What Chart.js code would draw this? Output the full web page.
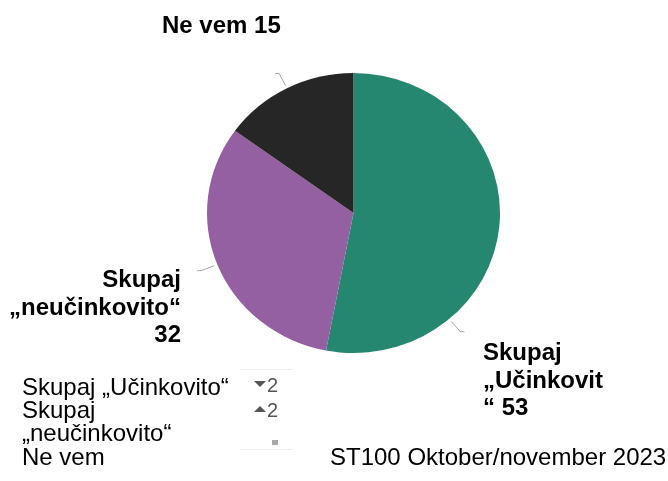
<!DOCTYPE html>
<html>
<head>
<meta charset="utf-8">
<script src="https://cdn.jsdelivr.net/npm/chart.js@4.4.0/dist/chart.umd.min.js"></script>
<style>
html, body { margin: 0; padding: 0; background: #fff; }
#wrap { width: 668px; height: 481px; }
</style>
</head>
<body>
<div id="wrap"><canvas id="pie_canvas" width="668" height="481"></canvas></div>
<script>
// data
const categories = ['Skupaj „Učinkovito“', 'Skupaj „neučinkovito“', 'Ne vem'];
const values = [53, 32, 15];
const trend = ['▼2', '▲2', '='];
const label_lines = [
    ['Skupaj', '„Učinkovit', '“ 53'],
    ['Skupaj', '„neučinkovito“', '32'],
    ['Ne vem 15'],
];
const footer_text = 'ST100 Oktober/november 2023';

const slice_colors = ['#268771', '#9460a2', '#262626'];
const FONT = 'Arial, "Liberation Sans", sans-serif';
const SX = 146.5 / 143, SY = 140 / 143; // pie is a bit wider than tall in the original

// where the callouts go: fraction along slice for leader, text anchor
const callouts = [
    { frac: 0.73, x: 483, y: 360, align: 'left' },
    { frac: 0.5, x: 181, y: 287, align: 'right' },
    { frac: 0.5, x: 162, y: 33, align: 'left' },
];

function wrap_text(ctx, text, max_w) {
    let words = text.split(' ');
    let lines = [];
    let cur = '';
    for (let w of words) {
        let t = cur ? cur + ' ' + w : w;
        if (cur && ctx.measureText(t).width > max_w) {
            lines.push(cur);
            cur = w;
        } else {
            cur = t;
        }
    }
    if (cur) lines.push(cur);
    return lines;
}

const squash = {
    id: 'squash',
    beforeDatasetsDraw(chart) {
        const arc = chart.getDatasetMeta(0).data[0];
        const ctx = chart.ctx;
        ctx.save();
        ctx.translate(arc.x, arc.y);
        ctx.scale(SX, SY);
        ctx.translate(-arc.x, -arc.y);
    },
    afterDatasetsDraw(chart) {
        chart.ctx.restore();
    },
};

const extras = {
    id: 'extras',
    afterDraw(chart) {
        const ctx = chart.ctx;
        const arcs = chart.getDatasetMeta(0).data;

        // leader lines + data labels
        ctx.save();
        arcs.forEach((arc, i) => {
            const c = callouts[i];
            const a = arc.startAngle + c.frac * (arc.endAngle - arc.startAngle);
            const r = arc.outerRadius;
            const px = (rr) => arc.x + Math.cos(a) * rr * SX;
            const py = (rr) => arc.y + Math.sin(a) * rr * SY;
            const dir = Math.cos(a) < 0 ? -1 : 1;
            ctx.strokeStyle = '#a6a6a6';
            ctx.lineWidth = 1;
            ctx.beginPath();
            ctx.moveTo(px(r + 3), py(r + 3));
            ctx.lineTo(px(r + 17), py(r + 17));
            ctx.lineTo(px(r + 17) + dir * 4, py(r + 17));
            ctx.stroke();

            ctx.fillStyle = '#000';
            ctx.font = 'bold 24px ' + FONT;
            ctx.textAlign = c.align;
            ctx.textBaseline = 'alphabetic';
            label_lines[i].forEach((ln, j) => ctx.fillText(ln, c.x, c.y + j * 27.5));
        });

        // legend (text only)
        ctx.font = '24px ' + FONT;
        ctx.fillStyle = '#000';
        ctx.textAlign = 'left';
        let y = 395;
        for (let cat of categories) {
            for (let ln of wrap_text(ctx, cat, 215)) {
                ctx.fillText(ln, 22, y);
                y += 23.2;
            }
        }

        // change markers
        ctx.strokeStyle = '#ececec';
        ctx.beginPath();
        ctx.moveTo(240, 369.5); ctx.lineTo(292, 369.5);
        ctx.moveTo(240, 449.5); ctx.lineTo(292, 449.5);
        ctx.stroke();
        ctx.fillStyle = '#555';
        ctx.font = '20px ' + FONT;
        const rows = [385, 410, 442];
        trend.forEach((t, i) => {
            const ry = rows[i];
            if (t[0] === '▼' || t[0] === '▲') {
                const up = t[0] === '▲';
                ctx.beginPath();
                if (up) {
                    ctx.moveTo(254, ry + 2); ctx.lineTo(266, ry + 2); ctx.lineTo(260, ry - 4);
                } else {
                    ctx.moveTo(254, ry - 4); ctx.lineTo(266, ry - 4); ctx.lineTo(260, ry + 2);
                }
                ctx.closePath();
                ctx.fill();
                ctx.fillText(t.slice(1), 267, ry + 7);
            } else {
                ctx.fillStyle = '#a8a8a8';
                ctx.fillRect(272, ry - 2, 6, 5);
                ctx.fillStyle = '#555';
            }
        });

        // footer
        ctx.fillStyle = '#000';
        ctx.font = '24px ' + FONT;
        ctx.fillText(footer_text, 330, 465);
        ctx.restore();
    },
};

new Chart(document.getElementById('pie_canvas').getContext('2d'), {
    type: 'pie',
    data: {
        labels: categories,
        datasets: [{
            data: values,
            backgroundColor: slice_colors,
            borderWidth: 0,
        }],
    },
    options: {
        responsive: false,
        animation: false,
        layout: { padding: { left: 210.5, right: 171.5, top: 70, bottom: 125 } },
        plugins: {
            legend: { display: false },
            tooltip: { enabled: false },
        },
    },
    plugins: [squash, extras],
});
</script>
</body>
</html>
